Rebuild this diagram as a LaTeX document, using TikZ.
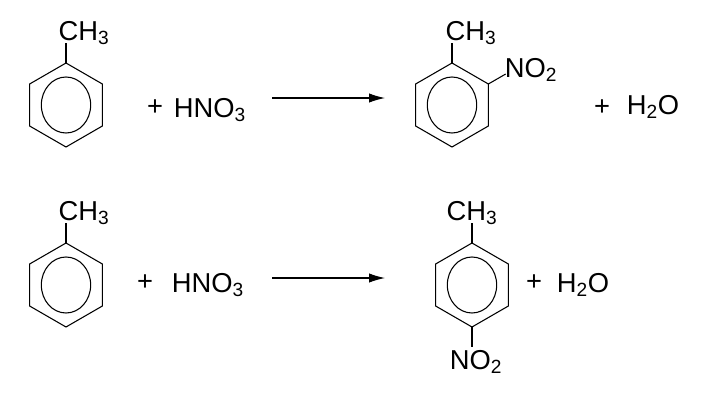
\documentclass[tikz,border=0pt]{standalone}
\usepackage{fontspec}
\setmainfont{Liberation Sans}
\usetikzlibrary{arrows.meta}
\newcommand{\benzring}[3]{% name, x, y
  \coordinate (#1) at (#2,#3);
  \foreach \i in {0,...,5}{\coordinate (#1v\i) at ([shift={(#1)}]{90+60*\i}:31.5pt);}
  \draw (#1v0)--(#1v1)--(#1v2)--(#1v3)--(#1v4)--(#1v5)--cycle;
  \draw (#1) ellipse[x radius=18.5pt,y radius=21pt];}
\begin{document}
\begin{tikzpicture}[x=0.75pt,y=-0.75pt,line width=0.8pt,
  lbl/.style={inner sep=0pt,font=\fontsize{20.5}{24}\selectfont},
  arr/.style={-{Latex[length=12pt,width=7pt]}}]
\useasboundingbox (0,0) rectangle (704,400);
% top reaction
\benzring{A}{66}{105}
\node[lbl,anchor=south] (Ame) at (84,45) {CH\textsubscript{3}};
\draw (Av0) -- ++(0,15pt);
\node[lbl] (p1) at (155,108) {+};
\node[lbl] (h1) at (210,110) {HNO\textsubscript{3}};
\coordinate (a1s) at (272,98); \coordinate (a1e) at (385,98);
\draw[arr] (a1s) -- (a1e);
\benzring{B}{452}{105}
\node[lbl,anchor=south] (Bme) at (471,45) {CH\textsubscript{3}};
\draw (Bv0) -- ++(0,15pt);
\draw (Bv5) -- ++(30:15pt) coordinate (Bn);
\node[lbl,anchor=west] (Bno) at ([xshift=-1pt,yshift=3pt]Bn) {NO\textsubscript{2}};
\node[lbl] (p2) at (602,108) {+};
\node[lbl] (w1) at (653,107) {H\textsubscript{2}O};
% bottom reaction
\benzring{C}{66}{285}
\node[lbl,anchor=south] (Cme) at (84,225) {CH\textsubscript{3}};
\draw (Cv0) -- ++(0,15pt);
\node[lbl] (p3) at (145,283) {+};
\node[lbl] (h2) at (208,285) {HNO\textsubscript{3}};
\coordinate (a2s) at (272,278); \coordinate (a2e) at (385,278);
\draw[arr] (a2s) -- (a2e);
\benzring{D}{472}{285}
\node[lbl,anchor=south] (Dme) at (472,225) {CH\textsubscript{3}};
\draw (Dv0) -- ++(0,15pt);
\draw (Dv3) -- ++(0,-15pt) coordinate (Dn);
\node[lbl,anchor=north] (Dno) at ([xshift=3pt,yshift=-2pt]Dn) {NO\textsubscript{2}};
\node[lbl] (p4) at (534,283) {+};
\node[lbl] (w2) at (583,285) {H\textsubscript{2}O};
\end{tikzpicture}
\end{document}
